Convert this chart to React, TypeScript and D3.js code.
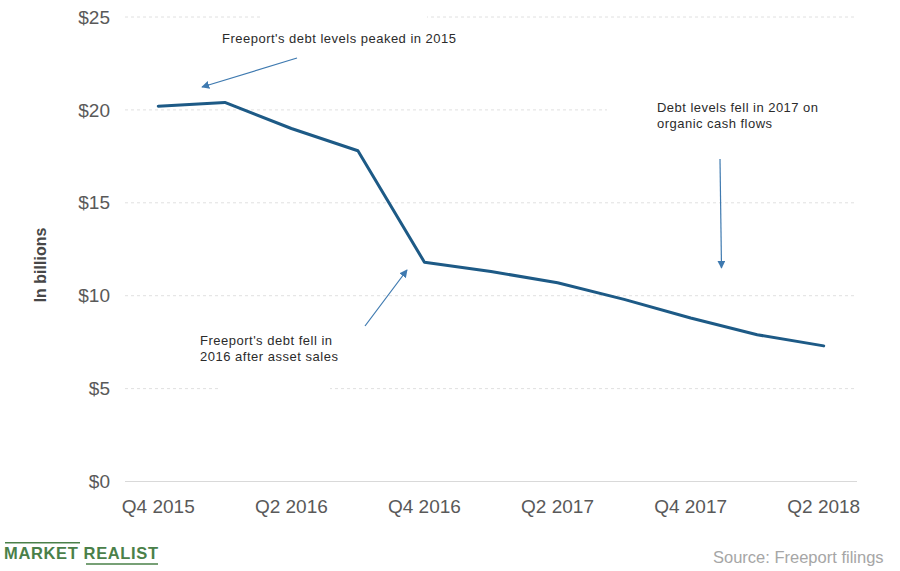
import React from "react";
import * as d3 from "d3";

const quarters = ["Q4 2015", "Q1 2016", "Q2 2016", "Q3 2016", "Q4 2016", "Q1 2017", "Q2 2017", "Q3 2017", "Q4 2017", "Q1 2018", "Q2 2018"];
const debt = [20.2, 20.4, 19.0, 17.8, 11.8, 11.3, 10.7, 9.8, 8.8, 7.9, 7.3];
const yTicks = [0, 5, 10, 15, 20, 25];
const xLabelQuarters = ["Q4 2015", "Q2 2016", "Q4 2016", "Q2 2017", "Q4 2017", "Q2 2018"];

const W = 900;
const H = 571;
const FONT = "'Liberation Sans', Arial, sans-serif";

export default function App() {
  const x = d3.scalePoint<string>().domain(quarters).range([125, 857]).padding(0.5);
  const y = d3.scaleLinear().domain([0, 25]).range([481.5, 17]);
  const line = d3
    .line<number>()
    .x((_, i) => x(quarters[i]) as number)
    .y((d) => y(d));

  const arrowColor = "#3f7ab0";
  const annColor = "#2b2b2b";

  return (
    <svg width={W} height={H} style={{ position: "absolute", left: 0, top: 0, background: "#fff" }}>
      <defs>
        <marker id="ah" viewBox="0 0 10 10" refX="9" refY="5" markerWidth="8" markerHeight="8" orient="auto" markerUnits="userSpaceOnUse">
          <path d="M0,0 L10,5 L0,10 z" fill={arrowColor} />
        </marker>
      </defs>
      <rect width={W} height={H} fill="#fff" />
      {/* grid */}
      {yTicks.map((t) => (
        <line
          key={t}
          x1={125}
          x2={857}
          y1={y(t)}
          y2={y(t)}
          stroke={t === 0 ? "#d9d9d9" : "#e0e0e0"}
          strokeWidth={1}
          strokeDasharray={t === 0 ? undefined : "3,3"}
        />
      ))}
      {/* white annotation boxes masking grid */}
      <rect x={260} y={8} width={167} height={40} fill="#fff" />
      <rect x={607} y={96} width={255} height={40} fill="#fff" />
      <rect x={220} y={372} width={110} height={30} fill="#fff" />

      {/* y tick labels */}
      {yTicks.map((t) => (
        <text key={t} x={110} y={y(t)} dy="0.35em" textAnchor="end" fontFamily={FONT} fontSize={19} fill="#595959">
          {"$" + t}
        </text>
      ))}
      {/* x tick labels */}
      {xLabelQuarters.map((q) => (
        <text key={q} x={x(q) as number} y={y(0) + 31.5} textAnchor="middle" fontFamily={FONT} fontSize={19} fill="#595959">
          {q}
        </text>
      ))}
      {/* y axis title */}
      <text
        transform={`translate(46,265) rotate(-90)`}
        textAnchor="middle"
        fontFamily={FONT}
        fontSize={16}
        fontWeight="bold"
        fill="#474747"
      >
        In billions
      </text>

      {/* data line */}
      <path d={line(debt) || ""} fill="none" stroke="#1d5a86" strokeWidth={3} strokeLinejoin="round" strokeLinecap="round" />

      {/* annotations */}
      <text x={222} y={43} fontFamily={FONT} fontSize={13} fill={annColor} textLength={234} lengthAdjust="spacing">
        Freeport's debt levels peaked in 2015
      </text>
      <line x1={297} y1={58} x2={202} y2={87} stroke={arrowColor} strokeWidth={1.2} markerEnd="url(#ah)" />

      <text x={657} y={112} fontFamily={FONT} fontSize={13} fill={annColor} textLength={161} lengthAdjust="spacing">
        Debt levels fell in 2017 on
      </text>
      <text x={657} y={127.5} fontFamily={FONT} fontSize={13} fill={annColor} textLength={115} lengthAdjust="spacing">
        organic cash flows
      </text>
      <line x1={720} y1={159} x2={721.5} y2={268} stroke={arrowColor} strokeWidth={1.2} markerEnd="url(#ah)" />

      <text x={200} y={345} fontFamily={FONT} fontSize={13} fill={annColor} textLength={132} lengthAdjust="spacing">
        Freeport's debt fell in
      </text>
      <text x={200} y={361} fontFamily={FONT} fontSize={13} fill={annColor} textLength={138} lengthAdjust="spacing">
        2016 after asset sales
      </text>
      <line x1={365} y1={326} x2={407} y2={270} stroke={arrowColor} strokeWidth={1.2} markerEnd="url(#ah)" />

      {/* branding */}
      <line x1={5} x2={80} y1={542.7} y2={542.7} stroke="#4a8049" strokeWidth={1.6} />
      <text x={4} y={558.5} fontFamily={FONT} fontSize={16.5} fontWeight="bold" fill="#4a8049" textLength={154} lengthAdjust="spacing">
        MARKET REALIST
      </text>
      <line x1={86} x2={158} y1={564} y2={564} stroke="#4a8049" strokeWidth={1.6} />

      <text x={713} y={562.5} fontFamily={FONT} fontSize={16.5} fill="#a6a6a6">
        Source: Freeport filings
      </text>
    </svg>
  );
}
